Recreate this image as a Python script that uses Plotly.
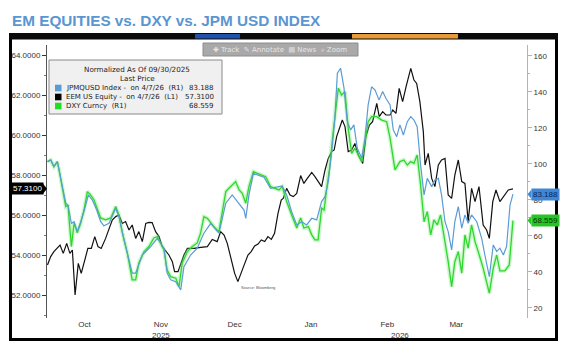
import plotly.graph_objects as go
import pandas as pd

# ---------------- data (days since 2025-09-30, values) ----------------
base_date = "2025-09-30"

jpm_day = [0,1.3,2.6,4.0,4.7,6.0,7.4,8.3,9.7,10.8,12.1,13.5,14.8,16.6,18.2,20.0,21.6,22.9,25.0,27.7,
           29.0,31.1,34.4,35.8,38.5,41.9,44.6,47.3,48.6,50.0,52.1,54.1,55.4,58.1,60.8,63.5,66.3,69.6,72.4,75.0,
           77.1,79.8,80.5,81.8,83.6,87.9,90.6,93.3,95.3,97.1,99.1,101.2,103.2,105.2,107.3,109.3,111.3,112.7,114.0,115.4,
           116.7,117.7,119.0,120.4,121.7,123.1,124.4,125.8,127.6,128.9,130.2,131.6,133.0,134.6,136.1,137.4,139.1,140.4,141.8,143.1,
           144.5,146.1,147.5,148.8,150.1,151.5,152.9,154.2,156.0,157.3,158.7,160.0,161.4,162.7,164.1,165.4,166.8,168.2,169.5,170.8,
           172.2,174.3,176.3,177.6,179.4,181.0,182.4,183.7,185.1,186.4,187.8,189.0]
jpm_val = [101.3,102.2,98.5,101.3,96.7,87.4,78.2,77.2,67.0,67.9,62.4,67.9,73.5,82.8,80.0,74.4,67.9,65.6,67.0,75.4,
           70.7,57.8,39.3,39.3,49.4,54.1,58.7,53.2,39.3,35.6,34.6,30.0,42.9,49.4,53.2,61.5,67.0,61.5,78.2,82.8,
           79.1,74.4,69.8,82.8,94.8,92.6,86.5,87.1,87.8,82.8,73.5,66.1,67.9,66.1,69.8,68.9,79.1,81.8,90.2,106.8,
           125.4,150.4,153.2,142.1,123.5,118.9,121.7,108.7,103.2,114.3,132.8,142.9,141.1,135.6,140.2,136.5,132.8,118.9,115.2,121.7,
           116.1,123.5,126.3,124.4,120.7,99.4,82.8,92.0,87.4,91.1,92.0,82.8,67.9,62.4,52.2,67.9,76.3,64.3,71.7,67.0,
           71.7,67.9,58.7,49.4,37.4,55.0,51.3,53.2,49.4,54.1,77.2,83.188]

eem_day = [0,1.3,2.6,4.0,5.1,6.4,7.8,9.1,10.1,11.2,12.5,13.7,15.1,16.4,17.8,19.2,20.5,21.8,23.6,25.0,
           26.3,27.7,29.0,30.4,31.7,33.1,34.4,35.8,37.1,38.5,39.9,41.2,42.5,43.9,45.3,46.6,48.0,49.3,50.7,51.6,
           53.0,54.3,55.4,56.8,59.5,62.2,64.9,66.9,68.9,70.3,71.7,73.0,74.4,76.0,77.3,78.7,80.1,81.4,82.7,84.1,
           85.5,86.8,88.2,89.5,90.9,92.2,93.6,94.9,95.7,97.1,98.5,99.8,101.2,102.8,104.1,105.5,107.3,108.6,109.9,111.3,
           112.7,114.0,115.4,116.4,117.4,118.8,119.7,120.8,122.1,123.5,124.8,126.2,128.0,129.3,130.7,132.0,133.7,134.7,136.1,137.4,
           139.1,140.2,141.5,142.8,144.2,145.6,147.5,148.8,149.9,151.2,152.6,153.3,154.6,156.0,157.3,158.7,160.0,161.4,162.7,164.1,
           165.4,166.8,168.2,169.5,170.8,172.2,173.6,175.2,176.9,178.3,179.4,180.8,182.1,183.7,185.3,187.1,189.0]
eem_val = [53.50,53.92,54.17,54.33,54.50,54.08,54.58,54.08,54.25,52.00,53.58,53.08,53.75,54.33,54.33,54.92,54.42,54.33,54.83,55.33,
           55.75,55.92,56.00,55.58,55.67,55.25,55.50,54.83,55.17,54.67,55.58,55.63,55.62,55.17,54.92,54.42,54.17,54.00,53.67,53.17,
           53.17,53.58,54.00,54.33,54.33,54.38,54.42,54.78,54.67,55.17,55.00,54.58,53.83,53.08,52.67,53.17,53.58,54.00,54.17,54.45,
           54.55,54.75,54.67,54.92,54.78,55.08,56.08,56.75,56.83,57.33,57.00,56.92,57.08,57.97,57.58,57.83,58.13,57.92,57.67,57.42,
           58.25,58.83,59.17,59.25,59.92,60.50,60.75,60.42,59.17,59.25,59.58,59.00,58.58,59.92,60.50,60.67,61.58,60.92,61.17,61.00,
           61.00,61.25,61.08,62.33,61.67,62.42,63.33,62.75,62.58,61.67,60.17,58.50,59.08,57.83,57.42,58.50,58.75,58.83,57.00,56.83,
           58.00,58.75,57.67,57.58,55.67,57.33,56.67,57.42,55.50,55.25,54.83,56.67,57.25,56.67,56.92,57.25,57.31]

dxy_day = [0,1.3,2.6,4.0,4.7,6.0,7.4,8.3,9.7,10.8,12.1,13.5,14.8,16.2,17.5,18.9,20.2,21.6,23.6,25.7,
           27.7,29.0,30.4,32.4,34.4,35.8,37.1,39.2,41.2,43.2,44.6,46.0,47.3,48.6,50.0,52.1,53.4,54.7,56.8,58.8,
           60.8,62.2,63.5,64.9,66.3,67.6,69.6,71.0,72.4,73.7,75.0,76.4,77.8,79.1,80.5,81.8,83.6,85.9,88.6,90.6,
           92.7,94.0,95.3,97.1,99.1,101.2,102.8,104.1,105.9,107.3,108.6,109.9,111.3,112.3,113.4,114.7,116.0,117.4,118.1,119.4,
           120.8,122.1,123.5,124.8,126.2,127.6,128.9,130.2,131.6,133.7,135.7,137.7,139.1,141.1,143.1,144.7,146.1,147.5,148.8,150.1,
           151.5,152.9,154.2,155.6,156.9,158.3,159.6,161.4,162.7,164.1,165.4,166.8,168.2,169.5,170.8,172.2,173.6,174.9,176.9,179.4,
           181.0,182.4,183.7,185.7,187.5,189.0]
dxy_val = [101.3,102.2,98.5,101.3,96.7,87.4,76.3,77.2,54.1,67.2,61.7,67.2,74.4,84.6,82.8,80.0,75.6,70.0,68.9,70.0,
           76.3,71.7,61.7,50.6,35.6,35.6,45.0,51.3,54.1,58.9,59.6,56.1,52.2,41.1,37.4,36.5,31.8,45.0,51.3,54.1,
           56.1,61.7,70.7,69.8,67.2,65.2,62.4,72.8,84.6,86.5,88.3,90.2,85.6,83.7,78.2,87.4,95.7,94.4,92.9,87.4,
           86.5,85.6,87.4,79.1,71.7,64.4,70.0,64.4,65.2,60.6,57.8,57.8,75.4,74.4,86.5,99.4,117.9,136.5,142.1,138.3,
           140.2,119.8,105.9,108.7,105.0,101.3,112.4,123.5,126.3,126.3,124.4,123.5,114.3,96.7,101.3,102.2,99.4,101.3,100.4,105.0,
           88.3,67.9,73.5,60.6,68.9,66.1,71.7,56.8,45.7,31.8,45.7,51.3,39.3,60.6,53.2,66.1,56.8,51.3,42.1,28.2,
           42.1,49.4,40.6,40.6,43.9,68.559]

assert len(jpm_day) == len(jpm_val)
assert len(eem_day) == len(eem_val)
assert len(dxy_day) == len(dxy_val)

month_ticks = ["2025-10-15", "2025-11-15", "2025-12-15", "2026-01-15", "2026-02-15", "2026-03-15"]
month_labels = ["Oct", "Nov", "Dec", "Jan", "Feb", "Mar"]
year_labels = [("2025-11-15", "2025"), ("2026-02-20", "2026")]

last_jpm, last_eem, last_dxy = jpm_val[-1], eem_val[-1], dxy_val[-1]

# ---------------- helpers ----------------
t0 = pd.Timestamp(base_date)
def to_dates(days):
    return [t0 + pd.to_timedelta(d, unit="D") for d in days]

W, H = 581, 352
L, R, T, B = 47, 527, 45, 318
def px(x):
    return (x - L) / (R - L)
def py(y):
    return (B - y) / (B - T)

NB = "\u00a0"
C_BLUE = "#5b9bd5"
C_GREEN = "#2fd62f"
C_BLACK = "#111111"

fig = go.Figure()
fig.add_trace(go.Scatter(x=to_dates(dxy_day), y=dxy_val, yaxis="y2", mode="lines",
                         line=dict(color="rgba(110,235,110,0.35)", width=4), hoverinfo="skip", showlegend=False))
fig.add_trace(go.Scatter(x=to_dates(dxy_day), y=dxy_val, yaxis="y2", mode="lines",
                         line=dict(color=C_GREEN, width=1.3), name="DXY Curncy", showlegend=False))
fig.add_trace(go.Scatter(x=to_dates(jpm_day), y=jpm_val, yaxis="y2", mode="lines",
                         line=dict(color=C_BLUE, width=1.2), name="JPMQUSD Index", showlegend=False))
fig.add_trace(go.Scatter(x=to_dates(eem_day), y=eem_val, yaxis="y", mode="lines",
                         line=dict(color=C_BLACK, width=1.2), name="EEM US Equity", showlegend=False))

shapes = []
ann = []

def text(x, y, s, font, xanchor="center", yanchor="middle", xref="paper", yref="paper", **kw):
    ann.append(dict(xref=xref, yref=yref, x=x, y=y, text=s, showarrow=False, font=font,
                    xanchor=xanchor, yanchor=yanchor, **kw))

# outer black frame + top toolbar strip
shapes.append(dict(type="rect", xref="paper", yref="paper", x0=px(10.5), x1=px(556.5), y0=py(339.5), y1=py(35),
                   line=dict(color="black", width=3), fillcolor="rgba(0,0,0,0)", layer="below"))
shapes.append(dict(type="rect", xref="paper", yref="paper", x0=px(9), x1=px(558), y0=py(39.5), y1=py(33),
                   line=dict(width=0), fillcolor="#0a0a0a"))
shapes.append(dict(type="rect", xref="paper", yref="paper", x0=px(195), x1=px(240), y0=py(38.5), y1=py(34),
                   line=dict(width=0), fillcolor="#2050a8"))
shapes.append(dict(type="rect", xref="paper", yref="paper", x0=px(352), x1=px(458), y0=py(38.5), y1=py(34),
                   line=dict(width=0), fillcolor="#e89a3a"))
# gray chart toolbar
shapes.append(dict(type="rect", xref="paper", yref="paper", x0=px(203), x1=px(358), y0=py(56), y1=py(43),
                   line=dict(color="#8c8c8c", width=1), fillcolor="#a9a9a9"))
text(px(280), py(49.5), f"✚ Track{NB}{NB}✎ Annotate{NB}{NB}▤ News{NB}{NB}⌕ Zoom",
     dict(family="DejaVu Sans", size=7, color="#e6e6e6"))

# legend box
shapes.append(dict(type="rect", xref="paper", yref="paper", x0=px(49), x1=px(222), y0=py(114), y1=py(60),
                   line=dict(color="#8a8a8a", width=1), fillcolor="#f0f0f0"))
lf = dict(family="DejaVu Sans", size=7.2, color="#222222")
rf = dict(family="DejaVu Sans", size=7, color="#222222")
text(px(137), py(69), "Normalized As Of 09/30/2025", lf)
text(px(137), py(78.5), "Last Price", lf)
rows = [(88, C_BLUE, f"JPMQUSD Index -{NB}{NB}on 4/7/26{NB}{NB}(R1)", f"{last_jpm:.3f}"),
        (97, "#000000", f"EEM US Equity -{NB}{NB}on 4/7/26{NB}{NB}(L1)", f"{last_eem:.4f}"),
        (106, "#22dd22", f"DXY Curncy{NB}{NB}(R1)", f"{last_dxy:.3f}")]
for yy, col, label, val in rows:
    shapes.append(dict(type="rect", xref="paper", yref="paper", x0=px(55), x1=px(61.5), y0=py(yy + 3.3), y1=py(yy - 3.3),
                       line=dict(width=0), fillcolor=col))
    text(px(63.5), py(yy), label, rf, xanchor="left")
    text(px(216), py(yy), val, rf, xanchor="right")

# last-value tags on axes
text(px(43.5), last_eem, f"{last_eem:.4f}", dict(family="Liberation Sans", size=8, color="white"),
     xanchor="right", yref="y", bgcolor="#000000", borderpad=1)
shapes.append(dict(type="path", xref="paper", yref="y",
                   path=f"M {px(43)},{last_eem+0.25} L {px(47)},{last_eem} L {px(43)},{last_eem-0.25} Z",
                   fillcolor="#000000", line=dict(width=0)))
for val, fill, fc in [(last_jpm, "#3f86d4", "#0b2a55"), (last_dxy, "#27c427", "#063806")]:
    text(px(531), val, f"{val:.3f}", dict(family="Liberation Sans", size=8, color=fc),
         xanchor="left", yref="y2", bgcolor=fill, borderpad=1)
    shapes.append(dict(type="path", xref="paper", yref="y2",
                       path=f"M {px(531.5)},{val+2.6} L {px(527.5)},{val} L {px(531.5)},{val-2.6} Z",
                       fillcolor=fill, line=dict(width=0)))

# year labels
for d, t in year_labels:
    text(d, py(335), t, dict(family="Liberation Sans", size=8, color="#333333"), xref="x")

# source
text(px(258), py(287), "Source: Bloomberg", dict(family="Liberation Sans", size=4, color="#555555"))

# title
text(px(10), py(20), "<b>EM EQUITIES vs. DXY vs. JPM USD INDEX</b>",
     dict(family="Liberation Sans", size=15.3, color="#5a96d2"), xanchor="left")

x_start = t0 - pd.to_timedelta(0.2, unit="D")
x_end = t0 + pd.to_timedelta(194.7, unit="D")

fig.update_layout(
    width=W, height=H, autosize=False,
    margin=dict(l=L, r=W - R, t=T, b=H - B, pad=0),
    paper_bgcolor="white", plot_bgcolor="white",
    showlegend=False,
    xaxis=dict(type="date", range=[x_start, x_end], showgrid=False, zeroline=False, showline=False,
               tickmode="array", tickvals=month_ticks, ticktext=month_labels, ticks="",
               tickfont=dict(family="Liberation Sans", size=8, color="#333333")),
    yaxis=dict(range=[50.85, 64.5], side="left", showgrid=False, zeroline=False,
               showline=True, linecolor="#555555", linewidth=1,
               tick0=52, dtick=2, tickformat=".4f", ticks="outside", ticklen=4, tickcolor="#333333",
               minor=dict(ticks="outside", ticklen=2, dtick=1, tickcolor="#777777"),
               tickfont=dict(family="Liberation Sans", size=8, color="#333333")),
    yaxis2=dict(range=[14.4, 166.1], overlaying="y", side="right", showgrid=False, zeroline=False,
                showline=True, linecolor="#8fbbe6", linewidth=1,
                tick0=20, dtick=20, ticks="outside", ticklen=4, tickcolor="#8fbbe6",
                minor=dict(ticks="outside", ticklen=2, dtick=10, tickcolor="#8fbbe6"),
                tickfont=dict(family="Liberation Sans", size=8, color="#333333")),
    shapes=shapes, annotations=ann,
)

fig.write_html("out.html")
